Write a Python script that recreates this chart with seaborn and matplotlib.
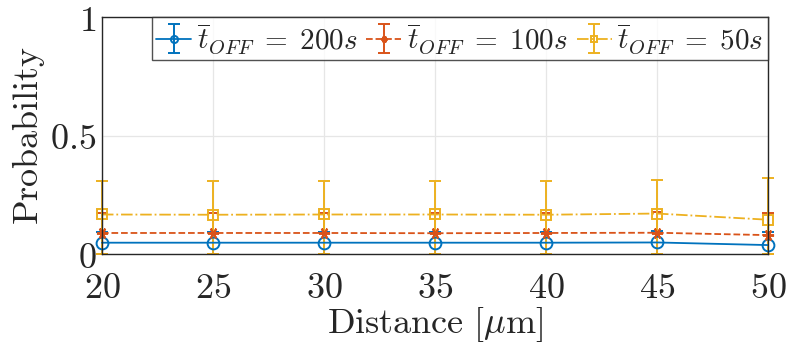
import numpy as np
import matplotlib
matplotlib.use('Agg')
import matplotlib.pyplot as plt
import seaborn as sns

# distances and mean probabilities
distance = [20, 25, 30, 35, 40, 45, 50]
p_200 = [0.048, 0.048, 0.048, 0.048, 0.048, 0.049, 0.038]
p_100 = [0.089, 0.089, 0.089, 0.088, 0.089, 0.090, 0.080]
p_50 = [0.167, 0.166, 0.167, 0.167, 0.166, 0.171, 0.145]
# upper end of each error bar (lower end goes down to 0)
up_200 = [0.095, 0.095, 0.095, 0.095, 0.095, 0.096, 0.092]
up_100 = [0.175, 0.175, 0.175, 0.174, 0.175, 0.177, 0.174]
up_50 = [0.308, 0.308, 0.308, 0.308, 0.310, 0.312, 0.323]
labels = [r'$\overline{t}_{OFF}\;=\;200s$', r'$\overline{t}_{OFF}\;=\;100s$',
          r'$\overline{t}_{OFF}\;=\;50s$']

sns.set_style('whitegrid')
plt.rcParams['font.family'] = ['DejaVu Serif']
plt.rcParams['mathtext.fontset'] = 'cm'

fig = plt.figure(figsize=(7.9, 3.49), dpi=100)
ax = fig.add_axes([0.129, 0.272, 0.843, 0.679])

series = [
    (p_200, up_200, '#0072BD', 'o', '-', 'none', 8.5),
    (p_100, up_100, '#D95319', (6, 2, 90), '--', '#D95319', 8),
    (p_50, up_50, '#EDB120', 's', '-.', 'none', 6.5),
]
for (m, up, c, mk, ls, mfc, ms), lab in zip(series, labels):
    m = np.array(m)
    err = [m, np.array(up) - m]
    ax.errorbar(distance, m, yerr=err, color=c, marker=mk, linestyle=ls,
                markerfacecolor=mfc, markersize=ms, markeredgewidth=1.4,
                linewidth=1.3, elinewidth=1.4, capsize=4.5, capthick=1.4,
                label=lab, clip_on=False)

ax.set_xlim(20, 50)
ax.set_ylim(0, 1)
ax.set_xticks(distance)
ax.set_xticklabels([f'${d}$' for d in distance])
ax.set_yticks([0, 0.5, 1])
ax.set_yticklabels(['$0$', '$0.5$', '$1$'])
ax.tick_params(labelsize=26, direction='in', length=5, color='#262626')
ax.tick_params(axis='x', pad=12)
ax.tick_params(axis='y', pad=4)
ax.set_xlabel(r'$\mathrm{Distance\ [}\mu\mathrm{m]}$', fontsize=26, labelpad=0)
ax.set_ylabel(r'$\mathrm{Probability}$', fontsize=26, labelpad=2)
ax.grid(True, color='#e6e6e6', linewidth=0.9)
for s in ax.spines.values():
    s.set_color('#262626')
    s.set_linewidth(1.0)

leg = ax.legend(loc='upper right', ncol=3, fontsize=21, frameon=True,
                fancybox=False, borderaxespad=0, handlelength=1.2,
                handletextpad=0.2, columnspacing=0.3, borderpad=0.15,
                markerscale=0.6)
leg.get_frame().set_edgecolor('#262626')
leg.get_frame().set_linewidth(1.0)

plt.savefig('out.png', dpi=100)
